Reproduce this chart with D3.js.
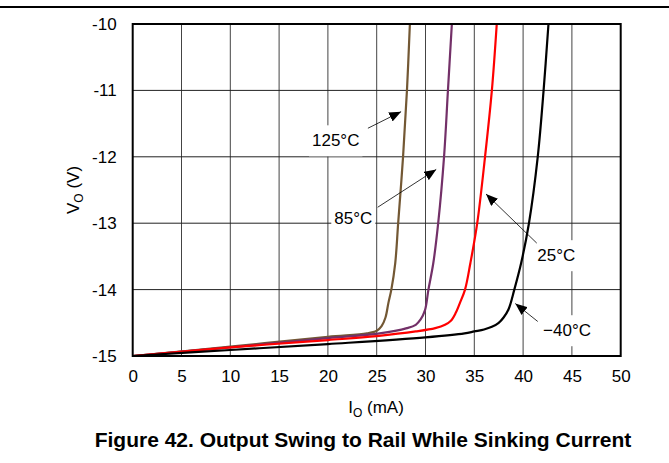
<!DOCTYPE html>
<html>
<head>
<meta charset="utf-8">
<script src="https://cdn.jsdelivr.net/npm/d3@7"></script>
<style>
  body { margin: 0; background: #fff; }
  text { font-family: Arial, "Liberation Sans", sans-serif; fill: #000; }
</style>
</head>
<body>
<div id="the_chart"></div>
<script>
// x: output current (mA), y: output voltage (V)
const xTicks = [0, 5, 10, 15, 20, 25, 30, 35, 40, 45, 50];
const yTicks = [-10, -11, -12, -13, -14, -15];

const i125 = [0, 10, 20, 24, 25, 25.5, 25.9, 26.2, 26.5, 26.9, 27.2, 27.7, 28.1, 28.4];
const v125 = [-15, -14.86, -14.71, -14.66, -14.62, -14.55, -14.42, -14.2, -14.0, -13.6, -13.0, -12.0, -11.0, -10];

const i85 = [0, 10, 20, 25.3, 28.1, 29.0, 29.5, 29.95, 30.3, 30.8, 31.3, 31.9, 32.3, 32.7];
const v85 = [-15, -14.87, -14.73, -14.66, -14.58, -14.53, -14.45, -14.31, -14.0, -13.6, -13.0, -12.0, -11.0, -10];

const i25 = [0, 10, 20, 25, 29, 31, 32, 32.6, 33.1, 33.5, 34.05, 34.6, 35.3, 36.1, 36.8, 37.3];
const v25 = [-15, -14.87, -14.76, -14.7, -14.63, -14.58, -14.53, -14.47, -14.35, -14.21, -14.0, -13.6, -13.0, -12.0, -11.0, -10];

const iM40 = [0, 10, 20, 30, 34, 35, 36, 36.8, 37.5, 38.0, 38.5, 39.1, 39.8, 40.6, 41.5, 42.1, 42.6];
const vM40 = [-15, -14.91, -14.82, -14.72, -14.66, -14.63, -14.6, -14.56, -14.5, -14.42, -14.3, -14.0, -13.6, -13.0, -12.0, -11.0, -10];

const seriesNames = ["125°C", "85°C", "25°C", "−40°C"];
const seriesColors = ["#735834", "#733068", "#ff0000", "#000000"];
const seriesI = [i125, i85, i25, iM40];
const seriesV = [v125, v85, v25, vM40];

// annotation: label centre, arrow tail, arrow tip (data units)
const labelPos = [[20.8, -11.75], [22.6, -12.92], [43.4, -13.48], [44.5, -14.61]];
const arrowTail = [[24.1, -11.57], [25.1, -12.76], [41.4, -13.30], [41.5, -14.48]];
const arrowTip = [[27.5, -11.32], [31.1, -12.19], [36.2, -12.56], [39.2, -14.21]];

var w = 669, h = 463;
var padLeft = 132.7, padRight = 620.7, padTop = 24, padBottom = 356;

var svg = d3.select("#the_chart").append("svg")
    .attr("width", w)
    .attr("height", h);

var xscale = d3.scaleLinear().domain([0, 50]).range([padLeft, padRight]);
var yscale = d3.scaleLinear().domain([-15, -10]).range([padBottom, padTop]);

// top rule of the page
svg.append("line")
    .attr("x1", 0).attr("x2", w)
    .attr("y1", 7).attr("y2", 7)
    .attr("stroke", "#000").attr("stroke-width", 2);

// grid
svg.append("g").selectAll("line")
    .data(xTicks.slice(1, -1))
    .enter().append("line")
    .attr("x1", d => xscale(d)).attr("x2", d => xscale(d))
    .attr("y1", padTop).attr("y2", padBottom)
    .attr("stroke", "#444").attr("stroke-width", 1);
svg.append("g").selectAll("line")
    .data(yTicks.slice(1, -1))
    .enter().append("line")
    .attr("x1", padLeft).attr("x2", padRight)
    .attr("y1", d => yscale(d)).attr("y2", d => yscale(d))
    .attr("stroke", "#222").attr("stroke-width", 1);

// axes (labels only, frame drawn below)
var xaxis = d3.axisBottom(xscale).tickValues(xTicks).tickSize(0).tickPadding(14).tickFormat(d3.format("d"));
var gx = svg.append("g")
    .attr("transform", "translate(0," + padBottom + ")")
    .call(xaxis);
var yaxis = d3.axisLeft(yscale).tickValues(yTicks).tickSize(0).tickPadding(16).tickFormat(d => "-" + Math.abs(d));
var gy = svg.append("g")
    .attr("transform", "translate(" + padLeft + ",0)")
    .call(yaxis);
[gx, gy].forEach(g => {
    g.select(".domain").remove();
    g.selectAll("text").style("font-size", "17px").style("font-family", "Arial, 'Liberation Sans', sans-serif");
});

// label boxes (white, they cut the grid)
var labels = svg.append("g");
var lab = labels.selectAll("g")
    .data(seriesNames)
    .enter().append("g");
lab.append("rect").attr("fill", "#fff");
lab.append("text")
    .attr("x", (d, i) => xscale(labelPos[i][0]))
    .attr("y", (d, i) => yscale(labelPos[i][1]))
    .attr("dy", "0.36em")
    .attr("text-anchor", "middle")
    .style("font-size", "17px")
    .text(d => d);
lab.each(function () {
    var t = d3.select(this).select("text").node().getBBox();
    d3.select(this).select("rect")
        .attr("x", t.x - 3).attr("y", t.y - 6)
        .attr("width", t.width + 6).attr("height", t.height + 12);
});

// curves
var line = d3.line()
    .x(d => xscale(d[0]))
    .y(d => yscale(d[1]))
    .curve(d3.curveCatmullRom.alpha(0.5));
svg.append("g").selectAll("path")
    .data(seriesI.map((xs, k) => xs.map((x, j) => [x, seriesV[k][j]])))
    .enter().append("path")
    .attr("d", line)
    .attr("fill", "none")
    .attr("stroke", (d, i) => seriesColors[i])
    .attr("stroke-width", 2.2);

// arrows
svg.append("defs").append("marker")
    .attr("id", "head")
    .attr("viewBox", "0 0 12 10")
    .attr("refX", 12).attr("refY", 5)
    .attr("markerWidth", 12).attr("markerHeight", 10)
    .attr("markerUnits", "userSpaceOnUse")
    .attr("orient", "auto")
    .append("path").attr("d", "M0,0L12,5L0,10Z").attr("fill", "#000");
svg.append("g").selectAll("line")
    .data(arrowTail)
    .enter().append("line")
    .attr("x1", d => xscale(d[0])).attr("y1", d => yscale(d[1]))
    .attr("x2", (d, i) => xscale(arrowTip[i][0])).attr("y2", (d, i) => yscale(arrowTip[i][1]))
    .attr("stroke", "#000").attr("stroke-width", 0.8)
    .attr("marker-end", "url(#head)");

// frame
svg.append("rect")
    .attr("x", padLeft).attr("y", padTop)
    .attr("width", padRight - padLeft).attr("height", padBottom - padTop)
    .attr("fill", "none").attr("stroke", "#000").attr("stroke-width", 2);

// axis titles
var xt = svg.append("text")
    .attr("x", 376).attr("y", 413)
    .attr("text-anchor", "middle")
    .style("font-size", "17px");
xt.append("tspan").text("I");
xt.append("tspan").attr("dy", 4).style("font-size", "12px").text("O");
xt.append("tspan").attr("dy", -4).text(" (mA)");

var yt = svg.append("text")
    .attr("transform", "translate(79,190) rotate(-90)")
    .attr("text-anchor", "middle")
    .style("font-size", "17px");
yt.append("tspan").text("V");
yt.append("tspan").attr("dy", 4).style("font-size", "12px").text("O");
yt.append("tspan").attr("dy", -4).text(" (V)");

// caption
svg.append("text")
    .attr("x", 363).attr("y", 447)
    .attr("text-anchor", "middle")
    .style("font-size", "21px")
    .style("font-weight", "bold")
    .text("Figure 42. Output Swing to Rail While Sinking Current");
</script>
</body>
</html>
